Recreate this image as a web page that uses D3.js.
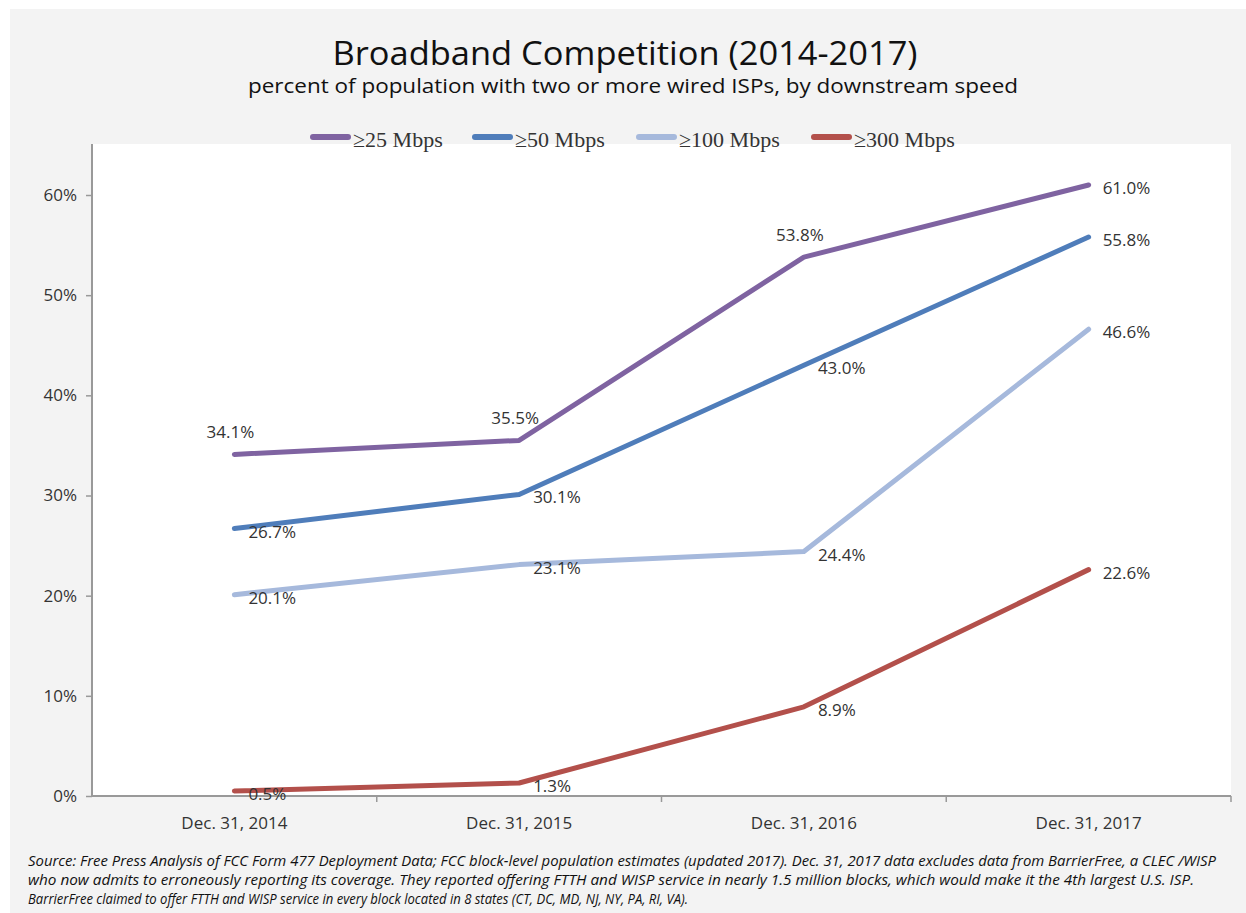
<!doctype html>
<html>
<head>
<meta charset="utf-8">
<title>Broadband Competition</title>
<script src="https://d3js.org/d3.v7.min.js"></script>
<style>
  body { margin: 0; background: #fff; }
  .tick-label { font: 17px "Open Sans", sans-serif; fill: #333; }
  .data-label { font: 17px "Open Sans", sans-serif; fill: #333; }
  .legend { font: 22px "Liberation Serif", serif; fill: #333; }
</style>
</head>
<body>
<script>

// chart data
var categories = ['Dec. 31, 2014', 'Dec. 31, 2015', 'Dec. 31, 2016', 'Dec. 31, 2017'];
var seriesNames = ['\u226525 Mbps', '\u226550 Mbps', '\u2265100 Mbps', '\u2265300 Mbps'];
var mbps25 = [34.1, 35.5, 53.8, 61.0];
var mbps50 = [26.7, 30.1, 43.0, 55.8];
var mbps100 = [20.1, 23.1, 24.4, 46.6];
var mbps300 = [0.5, 1.3, 8.9, 22.6];
var yTicks = [0, 10, 20, 30, 40, 50, 60];
var colors = ['#7f63a1', '#4f7dba', '#a6b9dc', '#b3504b'];
// which labels of the first series sit above the point (the rest sit to the right)
var labelsAbove = [[0, 1, 2], [], [], []];

var sourceLines = [
  'Source: Free Press Analysis of FCC Form 477 Deployment Data; FCC block-level population estimates (updated  2017). Dec. 31, 2017 data excludes data from BarrierFree,  a CLEC /WISP',
  'who now admits to erroneously reporting its coverage. They reported offering FTTH and WISP service in nearly 1.5 million blocks, which would make it the 4th largest U.S. ISP.',
  'BarrierFree claimed to offer FTTH and WISP service in every block located in 8 states (CT, DC, MD, NJ, NY, PA, RI, VA).'
];
var sourceWidths = [1188, 1166, 660];

var allSeries = [mbps25, mbps50, mbps100, mbps300];

var width = 1246, height = 913;
var plot = { left: 92, right: 1231, top: 144, bottom: 796 };

var svg = d3.select('body').append('svg')
  .attr('width', width)
  .attr('height', height);

// gray background and white plot area
svg.append('rect')
  .attr('x', 10).attr('y', 9)
  .attr('width', width - 10).attr('height', height - 9)
  .attr('fill', '#f3f3f3');

svg.append('rect')
  .attr('x', plot.left).attr('y', plot.top)
  .attr('width', plot.right - plot.left).attr('height', plot.bottom - plot.top)
  .attr('fill', '#ffffff');

// scales
var x = d3.scaleBand()
  .domain(categories)
  .range([plot.left, plot.right])
  .padding(0);

var y = d3.scaleLinear()
  .domain([0, 60])
  .range([plot.bottom, 195]);

// y axis
var yAxis = d3.axisLeft(y)
  .tickValues(yTicks)
  .tickSize(6)
  .tickPadding(9)
  .tickFormat(function(d) { return d + '%'; });

var yg = svg.append('g')
  .attr('transform', 'translate(' + plot.left + ',0)')
  .call(yAxis);
yg.select('.domain').remove();
yg.selectAll('.tick line').attr('stroke', '#999').attr('stroke-width', 1.5);
yg.selectAll('.tick text').attr('class', 'tick-label').attr('font-family', null).attr('font-size', null);
yg.append('line')
  .attr('x1', 0).attr('x2', 0)
  .attr('y1', plot.top).attr('y2', plot.bottom)
  .attr('stroke', '#999').attr('stroke-width', 2);

// x axis
var xAxis = d3.axisBottom(x)
  .tickSize(0)
  .tickPadding(21);

var xg = svg.append('g')
  .attr('transform', 'translate(0,' + plot.bottom + ')')
  .call(xAxis);
xg.select('.domain').remove();
xg.selectAll('.tick text').attr('class', 'tick-label').attr('font-family', null).attr('font-size', null);
xg.append('line')
  .attr('x1', plot.left).attr('x2', plot.right)
  .attr('stroke', '#999').attr('stroke-width', 2);
// tick marks at the band boundaries
xg.selectAll('.boundary')
  .data(categories)
  .enter().append('line')
  .attr('x1', function(d) { return x(d) + x.bandwidth(); })
  .attr('x2', function(d) { return x(d) + x.bandwidth(); })
  .attr('y1', 0).attr('y2', 6)
  .attr('stroke', '#999').attr('stroke-width', 1.5);

// lines
var line = d3.line()
  .x(function(d, i) { return x(categories[i]) + x.bandwidth() / 2; })
  .y(function(d) { return y(d); });

svg.append('g').selectAll('path')
  .data(allSeries)
  .enter().append('path')
  .attr('d', line)
  .attr('fill', 'none')
  .attr('stroke', function(d, i) { return colors[i]; })
  .attr('stroke-width', 5)
  .attr('stroke-linecap', 'round')
  .attr('stroke-linejoin', 'round');

// data labels
allSeries.forEach(function(values, s) {
  svg.append('g').selectAll('text')
    .data(values)
    .enter().append('text')
    .attr('class', 'data-label')
    .each(function(d, i) {
      var px = x(categories[i]) + x.bandwidth() / 2;
      var py = y(d);
      var el = d3.select(this);
      if (labelsAbove[s].indexOf(i) >= 0) {
        el.attr('x', px - 4).attr('y', py - 16).attr('text-anchor', 'middle');
      } else {
        el.attr('x', px + 14).attr('y', py + 9).attr('text-anchor', 'start');
      }
    })
    .text(function(d) { return d.toFixed(1) + '%'; });
});

// title and subtitle
svg.append('text')
  .attr('x', 625).attr('y', 65)
  .attr('text-anchor', 'middle')
  .attr('textLength', 585).attr('lengthAdjust', 'spacingAndGlyphs')
  .style('font', '32px "Open Sans", sans-serif')
  .attr('fill', '#111')
  .text('Broadband Competition (2014-2017)');

svg.append('text')
  .attr('x', 633).attr('y', 93)
  .attr('text-anchor', 'middle')
  .attr('textLength', 770).attr('lengthAdjust', 'spacingAndGlyphs')
  .style('font', '20px "Open Sans", sans-serif')
  .attr('fill', '#111')
  .text('percent of population with two or more wired ISPs, by downstream speed');

// legend
var legendX = [310, 472, 636, 811];
var legend = svg.append('g').selectAll('g')
  .data(seriesNames)
  .enter().append('g')
  .attr('transform', function(d, i) { return 'translate(' + legendX[i] + ',0)'; });

legend.append('line')
  .attr('x1', 3).attr('x2', 38)
  .attr('y1', 137).attr('y2', 137)
  .attr('stroke', function(d, i) { return colors[i]; })
  .attr('stroke-width', 6)
  .attr('stroke-linecap', 'round');

legend.append('text')
  .attr('class', 'legend')
  .attr('x', 43).attr('y', 147)
  .text(function(d) { return d; });

// source note
svg.append('g').selectAll('text')
  .data(sourceLines)
  .enter().append('text')
  .attr('x', 28)
  .attr('y', function(d, i) { return 866 + i * 19; })
  .attr('textLength', function(d, i) { return sourceWidths[i]; })
  .attr('lengthAdjust', 'spacingAndGlyphs')
  .style('font', 'italic 14px "Open Sans", sans-serif')
  .attr('fill', '#111')
  .text(function(d) { return d; });

</script>
</body>
</html>
